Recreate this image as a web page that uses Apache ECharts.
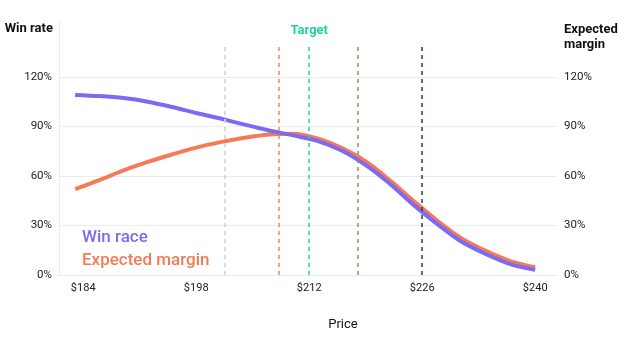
<!DOCTYPE html>
<html>
<head>
<meta charset="utf-8">
<script src="https://cdn.jsdelivr.net/npm/echarts@6/dist/echarts.min.js"></script>
<style>html,body{margin:0;padding:0;background:#fff}#c{width:640px;height:355px}</style>
</head>
<body>
<div id="c"></div>
<script>
// ---- data ----
const prices = [183, 186, 189, 192, 195, 198, 201, 204, 207, 210, 213, 216, 219, 222, 225, 228, 231, 234, 237, 240];
const winRace = [109.1, 108.4, 107.2, 105, 101.8, 98.2, 94.8, 91.1, 87.6, 84.6, 81.3, 75.4, 66.6, 55.3, 42.2, 30.4, 19.8, 12.4, 6.4, 3.1];
const expectedMargin = [52, 57.5, 63.4, 68.5, 73, 77.2, 80.5, 83.2, 85.2, 85.6, 82.8, 77, 68.8, 57.4, 44.6, 32.4, 21.8, 14.3, 8.3, 4.7];
const xTicks = [184, 198, 212, 226, 240];
const yTicks = [0, 30, 60, 90, 120];
const refPrices = [201.5, 208.25, 212, 218, 226];
const refNames = ['', '', 'Target', '', ''];
const refTop = 139.4;

// ---- styles ----
const purple = '#7B6AF2';
const orange = '#F47A58';
const refColors = ['#d6d6d6', '#f7845f', '#1fd49c', '#b97f4f', '#22443a'];
const font = 'Roboto, "Noto Sans", sans-serif';

const chart = echarts.init(document.getElementById('c'), null, {renderer: 'canvas'});

const markData = refPrices.map((p, i) => [
  {coord: [p, 0], lineStyle: {color: refColors[i], width: i === 0 ? 1.8 : 1.5, type: [4, 4], opacity: 1},
   label: {show: !!refNames[i], formatter: refNames[i], position: 'end', distance: 8,
           color: refColors[i], fontWeight: 'bold', fontSize: 13, fontFamily: font}},
  {coord: [p, refTop]}
]);

chart.setOption({
  animation: false,
  textStyle: {fontFamily: font},
  grid: {left: 59, right: 83, top: 22, bottom: 80},
  legend: {
    orient: 'vertical', left: 77, top: 229, padding: 0,
    icon: 'none', itemWidth: 0, itemHeight: 14, itemGap: 4.5,
    selectedMode: false,
    textStyle: {fontSize: 17, fontWeight: 500, lineHeight: 18, fontFamily: font},
    data: [
      {name: 'Win race', textStyle: {color: purple}},
      {name: 'Expected margin', textStyle: {color: orange}}
    ]
  },
  xAxis: {
    type: 'value', min: 181, max: 242.7,
    name: 'Price', nameLocation: 'middle', nameGap: 43,
    nameTextStyle: {color: '#111', fontSize: 13, padding: [0, 0, 0, 70]},
    axisLine: {show: true, lineStyle: {color: '#ececec'}},
    axisTick: {show: false},
    splitLine: {show: false},
    axisLabel: {customValues: xTicks, color: '#222', fontSize: 11, margin: 8,
                formatter: v => '$' + v}
  },
  yAxis: [
    {
      type: 'value', min: 0, max: 153.3, position: 'left',
      name: 'Win rate', nameLocation: 'end', nameGap: 0,
      nameTextStyle: {color: '#111', fontWeight: 'bold', fontSize: 13, align: 'right',
                      verticalAlign: 'top', padding: [0, 6, 0, 0]},
      axisLine: {show: true, lineStyle: {color: '#ececec'}},
      axisTick: {show: false, customValues: yTicks},
      splitLine: {show: true, lineStyle: {color: '#ececec'}},
      axisLabel: {customValues: yTicks, color: '#222', fontSize: 11.5, margin: 7,
                  formatter: v => v + '%'}
    },
    {
      type: 'value', min: 0, max: 153.3, position: 'right',
      name: 'Expected\nmargin', nameLocation: 'end', nameGap: 0,
      nameTextStyle: {color: '#111', fontWeight: 'bold', fontSize: 13, align: 'left',
                      verticalAlign: 'top', lineHeight: 15, padding: [0, 0, 0, 7]},
      axisLine: {show: false},
      axisTick: {show: false, customValues: yTicks},
      splitLine: {show: false},
      axisLabel: {customValues: yTicks, color: '#222', fontSize: 11.5, margin: 7,
                  formatter: v => v + '%'}
    }
  ],
  series: [
    {
      name: 'Expected margin', type: 'line', yAxisIndex: 1, smooth: 0.3,
      showSymbol: false, symbol: 'none',
      lineStyle: {color: orange, width: 4}, itemStyle: {color: orange},
      data: prices.map((p, i) => [p, expectedMargin[i]]),
      markLine: {silent: true, symbol: 'none', data: markData},
      z: 3
    },
    {
      name: 'Win race', type: 'line', yAxisIndex: 0, smooth: 0.3,
      showSymbol: false, symbol: 'none',
      lineStyle: {color: purple, width: 4}, itemStyle: {color: purple},
      data: prices.map((p, i) => [p, winRace[i]]),
      z: 4
    }
  ]
});
</script>
</body>
</html>
